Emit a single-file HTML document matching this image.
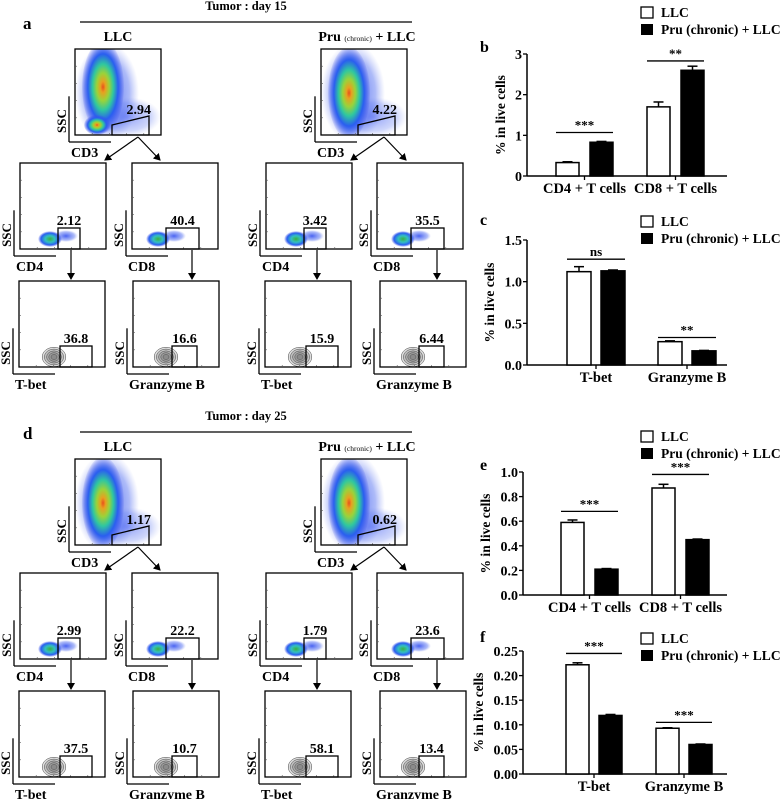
<!DOCTYPE html>
<html><head><meta charset="utf-8">
<style>
html,body{margin:0;padding:0;background:#fff;}
svg{display:block;font-family:"Liberation Serif",serif;font-weight:bold;}
</style></head>
<body>
<svg id="fig" width="783" height="799" viewBox="0 0 783 799" xmlns="http://www.w3.org/2000/svg">
<defs id="defs">
<radialGradient id="dens" cx="50%" cy="50%" r="50%">
<stop offset="0" stop-color="#e8501c"/>
<stop offset="0.12" stop-color="#e8a020"/>
<stop offset="0.3" stop-color="#9ad33a"/>
<stop offset="0.5" stop-color="#2fc7a0"/>
<stop offset="0.72" stop-color="#2a5ef0"/>
<stop offset="1" stop-color="#3a4ee8" stop-opacity="0.1"/>
</radialGradient>
<radialGradient id="densS" cx="50%" cy="50%" r="50%">
<stop offset="0" stop-color="#3ab040"/>
<stop offset="0.4" stop-color="#33c0c0"/>
<stop offset="0.75" stop-color="#2a5ef0"/>
<stop offset="1" stop-color="#3a4ee8" stop-opacity="0"/>
</radialGradient>
<radialGradient id="scat" cx="50%" cy="50%" r="50%">
<stop offset="0" stop-color="#2a48f0" stop-opacity="0.85"/>
<stop offset="0.7" stop-color="#4a68f0" stop-opacity="0.45"/>
<stop offset="1" stop-color="#8090f0" stop-opacity="0"/>
</radialGradient>
<marker id="ah" markerWidth="8" markerHeight="8" refX="6" refY="4" orient="auto" markerUnits="userSpaceOnUse">
<path d="M0,0 L7,4 L0,8 Z" fill="#000"/>
</marker>
</defs>
<g id="flow"></g>
<g id="charts"></g>
</svg>
<script>
// ---------- bar chart data ----------
const catsB = ["CD4 + T cells","CD8 + T cells"];
const llcB = [0.33, 1.70];
const pruB = [0.83, 2.60];
const llcErrB = [0.02, 0.12];
const pruErrB = [0.02, 0.10];
const ticksB = ["0","1","2","3"];
const sigB = ["***","**"];
const sigYB = [1.07, 2.83];

const catsC = ["T-bet","Granzyme B"];
const llcC = [1.12, 0.28];
const pruC = [1.13, 0.17];
const llcErrC = [0.06, 0.01];
const pruErrC = [0.01, 0.005];
const ticksC = ["0.0","0.5","1.0","1.5"];
const sigC = ["ns","**"];
const sigYC = [1.27, 0.33];

const catsE = ["CD4 + T cells","CD8 + T cells"];
const llcE = [0.59, 0.87];
const pruE = [0.21, 0.45];
const llcErrE = [0.02, 0.03];
const pruErrE = [0.005, 0.005];
const ticksE = ["0.0","0.2","0.4","0.6","0.8","1.0"];
const sigE = ["***","***"];
const sigYE = [0.68, 0.98];

const catsF = ["T-bet","Granzyme B"];
const llcF = [0.222, 0.093];
const pruF = [0.119, 0.060];
const llcErrF = [0.004, 0.001];
const pruErrF = [0.002, 0.001];
const ticksF = ["0.00","0.05","0.10","0.15","0.20","0.25"];
const sigF = ["***","***"];
const sigYF = [0.245, 0.105];

// ---------- flow gate values ----------
const cd3Vals = ["2.94","4.22","1.17","0.62"];
const row2Vals = ["2.12","40.4","3.42","35.5","2.99","22.2","1.79","23.6"];
const row3Vals = ["36.8","16.6","15.9","6.44","37.5","10.7","58.1","13.4"];

const NS="http://www.w3.org/2000/svg";
function mk(parent, tag, attrs, text){
  const e=document.createElementNS(NS,tag);
  for(const k in attrs) e.setAttribute(k,attrs[k]);
  if(text!==undefined) e.textContent=text;
  parent.appendChild(e); return e;
}
const flow=document.getElementById('flow');
const charts=document.getElementById('charts');
const defs=document.getElementById('defs');
let clipN=0;

function axesL(g,x,y,s,xl){
  mk(g,'line',{x1:x-6,y1:y+s*0.55,x2:x-6,y2:y+s+7,stroke:'#000','stroke-width':1.3});
  mk(g,'line',{x1:x-6,y1:y+s+7,x2:x+36,y2:y+s+7,stroke:'#000','stroke-width':1.3});
  const t=mk(g,'text',{x:x-9,y:y+s-14,'font-size':13,'text-anchor':'middle',transform:`rotate(-90 ${x-9} ${y+s-14})`},'SSC');
  
  
  const l=mk(g,'text',{x:x-4,y:y+s+22,'font-size':14},xl);
  
  
}
function box(g,x,y,s){
  const r=mk(g,'rect',{x:x,y:y,width:s,height:s,fill:'none',stroke:'#000','stroke-width':1.3});
  for(let i=1;i<5;i++){mk(g,'line',{x1:x,y1:y+s*i/5,x2:x+2,y2:y+s*i/5,stroke:'#555','stroke-width':0.6});
    mk(g,'line',{x1:x+s*i/5,y1:y+s,x2:x+s*i/5,y2:y+s-2,stroke:'#555','stroke-width':0.6});}
  return r;
}
function clipFor(x,y,s){
  const id='clp'+(clipN++);
  const c=mk(defs,'clipPath',{id:id});
  mk(c,'rect',{x:x,y:y,width:s,height:s});
  return `url(#${id})`;
}
function cd3Panel(x,y,val,variant){
  const g=mk(flow,'g',{});
  
  
  const s=86;
  const cg=mk(g,'g',{'clip-path':clipFor(x,y,s)});
  mk(cg,'ellipse',{cx:x+32,cy:y+44,rx:32,ry:50,fill:'url(#scat)'});
  mk(cg,'ellipse',{cx:x+52,cy:y+68,rx:34,ry:20,fill:'url(#scat)',opacity:0.6});
  mk(cg,'ellipse',{cx:x+28,cy:y+variant*6+38,rx:21,ry:46,fill:'url(#dens)'});
  if(variant===0) mk(cg,'ellipse',{cx:x+22,cy:y+76,rx:13,ry:10,fill:'url(#dens)'});
  box(g,x,y,s);
  const gate=mk(g,'polygon',{points:`${x+37},${y+s} ${x+37},${y+76} ${x+74},${y+67} ${x+74},${y+s}`,fill:'none',stroke:'#000','stroke-width':1.3});
  
  
  mk(g,'text',{x:x+76,y:y+65,'font-size':14,'text-anchor':'end'},val);
  axesL(g,x,y,s,'CD3');
  mk(g,'line',{x1:x+63,y1:y+s+2,x2:x+30,y2:y+s+25,stroke:'#000','stroke-width':1.2,'marker-end':'url(#ah)'});
  mk(g,'line',{x1:x+63,y1:y+s+2,x2:x+85,y2:y+s+25,stroke:'#000','stroke-width':1.2,'marker-end':'url(#ah)'});
}
function row2Panel(x,y,val,gx1,gx2,xl,arrowX){
  const g=mk(flow,'g',{});
  
  
  const s=86;
  mk(g,'ellipse',{cx:x+gx1-8,cy:y+s-10,rx:12,ry:8,fill:'url(#densS)'});
  mk(g,'ellipse',{cx:x+gx1+8,cy:y+s-13,rx:12,ry:6,fill:'url(#scat)'});
  box(g,x,y,s);
  const gr=mk(g,'rect',{x:x+gx1,y:y+65,width:gx2-gx1,height:s-65,fill:'none',stroke:'#000','stroke-width':1.3});
  
  
  mk(g,'text',{x:x+(gx1+gx2)/2,y:y+62,'font-size':14,'text-anchor':'middle'},val);
  axesL(g,x,y,s,xl);
  mk(g,'line',{x1:x+arrowX,y1:y+s+1,x2:x+arrowX,y2:y+s+30,stroke:'#000','stroke-width':1.2,'marker-end':'url(#ah)'});
}
function row3Panel(x,y,val,gx1,gx2,xl){
  const g=mk(flow,'g',{});
  
  
  const s=86;
  for(let i=0;i<5;i++) mk(g,'ellipse',{cx:x+gx1-6,cy:y+s-10,rx:3+i*2.2,ry:2.5+i*1.8,fill:'#555','fill-opacity':0.2,stroke:'#444','stroke-width':0.5});
  box(g,x,y,s);
  const gr=mk(g,'rect',{x:x+gx1,y:y+65,width:gx2-gx1,height:s-65,fill:'none',stroke:'#000','stroke-width':1.3});
  
  
  mk(g,'text',{x:x+(gx1+gx2)/2,y:y+62,'font-size':14,'text-anchor':'middle'},val);
  axesL(g,x,y,s,xl);
}
function flowBlock(oy,title,letter,bi){
  const t=mk(flow,'text',{x:246,y:oy+10,'font-size':12.5,'text-anchor':'middle'},title);
  
  
  mk(flow,'line',{x1:80,y1:oy+22,x2:412,y2:oy+22,stroke:'#000','stroke-width':1.2});
  const l=mk(flow,'text',{x:23,y:oy+29,'font-size':17},letter);
  
  
  const a=mk(flow,'text',{x:118,y:oy+41,'font-size':14,'text-anchor':'middle'},'LLC');
  
  
  const p=mk(flow,'text',{x:367,y:oy+41,'font-size':14,'text-anchor':'middle'});
  
  
  mk(p,'tspan',{},'Pru ');
  mk(p,'tspan',{'font-size':7.5,'font-weight':'normal'},'(chronic)');
  mk(p,'tspan',{},' + LLC');
  const X1=[75,321], X2=[[20,132],[266,377]], X3=[[19,133],[265,380]];
  for(let j=0;j<2;j++){
    cd3Panel(X1[j],oy+49,cd3Vals[bi*2+j],j+bi*2>0?1:0);
    row2Panel(X2[j][0],oy+163,row2Vals[bi*4+j*2],38,60,'CD4',51);
    row2Panel(X2[j][1],oy+163,row2Vals[bi*4+j*2+1],34,67,'CD8',60);
    row3Panel(X3[j][0],oy+281,row3Vals[bi*4+j*2],41,73,'T-bet');
    row3Panel(X3[j][1],oy+281,row3Vals[bi*4+j*2+1],39,64,'Granzyme B');
  }
}
flowBlock(0,'Tumor : day 15','a',0);
flowBlock(410,'Tumor : day 25','d',1);

// ---------- bar charts ----------
function barChart(o){
  const g=mk(charts,'g',{});
  
  
  const ymax=parseFloat(o.ticks[o.ticks.length-1]);
  const ys=v=>o.y0-(v/ymax)*(o.y0-o.yTop);
  const xs=(ci,si)=>o.barX[ci]+si*o.gap;
  const lg=mk(g,'g',{});
  
  
  mk(lg,'rect',{x:641,y:o.legY-9,width:12,height:11,fill:'#fff',stroke:'#000','stroke-width':1.3});
  mk(lg,'text',{x:661,y:o.legY+1,'font-size':13.5},'LLC');
  mk(lg,'rect',{x:641,y:o.legY+8,width:12,height:11,fill:'#000'});
  mk(lg,'text',{x:661,y:o.legY+18,'font-size':13.5},'Pru (chronic) + LLC');
  const lt=mk(g,'text',{x:o.letX,y:o.letY,'font-size':16},o.letter);
  
  
  mk(g,'line',{x1:o.ax,y1:o.yTop,x2:o.ax,y2:o.y0,stroke:'#000','stroke-width':1.5});
  mk(g,'line',{x1:o.ax,y1:o.y0,x2:o.axEnd,y2:o.y0,stroke:'#000','stroke-width':1.5});
  o.ticks.forEach(t=>{
    const y=ys(parseFloat(t));
    mk(g,'line',{x1:o.ax-4,y1:y,x2:o.ax,y2:y,stroke:'#000','stroke-width':1.3});
    const tx=mk(g,'text',{x:o.ax-5,y:y+5,'font-size':14,'text-anchor':'end'},t);
    
    
  });
  const yt=mk(g,'text',{x:o.ax-o.titleOff,y:(o.y0+o.yTop)/2,'font-size':13.5,'text-anchor':'middle',transform:`rotate(-90 ${o.ax-o.titleOff} ${(o.y0+o.yTop)/2})`},'% in live cells');
  
  
  o.cats.forEach((c,ci)=>{
    const cx=(xs(ci,0)+xs(ci,1)+o.bw)/2;
    mk(g,'line',{x1:cx,y1:o.y0,x2:cx,y2:o.y0+4,stroke:'#000','stroke-width':1.3});
    const cl=mk(g,'text',{x:cx,y:o.y0+17,'font-size':14.5,'text-anchor':'middle'},c);
    
    
    [[o.llc,o.llcErr,'#fff'],[o.pru,o.pruErr,'#000']].forEach((s,si)=>{
      const x=xs(ci,si), v=s[0][ci], e=s[1][ci];
      const b=mk(g,'rect',{x:x,y:ys(v),width:o.bw,height:o.y0-ys(v),fill:s[2],stroke:'#000','stroke-width':1.5});
      
      
      const mx=x+o.bw/2;
      mk(g,'line',{x1:mx,y1:ys(v),x2:mx,y2:ys(v+e),stroke:'#000','stroke-width':1.5});
      mk(g,'line',{x1:mx-5,y1:ys(v+e),x2:mx+5,y2:ys(v+e),stroke:'#000','stroke-width':1.5});
    });
    const sy=ys(o.sigY[ci]);
    mk(g,'line',{x1:xs(ci,0),y1:sy,x2:xs(ci,1)+o.bw,y2:sy,stroke:'#000','stroke-width':1.3});
    const st=mk(g,'text',{x:cx,y:sy-3,'font-size':13,'text-anchor':'middle'},o.sig[ci]);
    
    
  });
}
barChart({name:'chart-b',letter:'b',letX:480,letY:52,legY:16,ax:527,axEnd:727,y0:176,yTop:54,ticks:ticksB,cats:catsB,llc:llcB,pru:pruB,llcErr:llcErrB,pruErr:pruErrB,sig:sigB,sigY:sigYB,barX:[556,647],gap:34,bw:23,titleOff:22});
barChart({name:'chart-c',letter:'c',letX:480,letY:225,legY:225,ax:527,axEnd:727,y0:365,yTop:240,ticks:ticksC,cats:catsC,llc:llcC,pru:pruC,llcErr:llcErrC,pruErr:pruErrC,sig:sigC,sigY:sigYC,barX:[567,658],gap:34,bw:24,titleOff:33});
barChart({name:'chart-e',letter:'e',letX:480,letY:470,legY:440,ax:523,axEnd:727,y0:595,yTop:472,ticks:ticksE,cats:catsE,llc:llcE,pru:pruE,llcErr:llcErrE,pruErr:pruErrE,sig:sigE,sigY:sigYE,barX:[561,652],gap:34,bw:23,titleOff:33});
barChart({name:'chart-f',letter:'f',letX:480,letY:642,legY:642,ax:523,axEnd:727,y0:774,yTop:651,ticks:ticksF,cats:catsF,llc:llcF,pru:pruF,llcErr:llcErrF,pruErr:pruErrF,sig:sigF,sigY:sigYF,barX:[566,656],gap:33,bw:23,titleOff:40});
</script>
</body></html>
